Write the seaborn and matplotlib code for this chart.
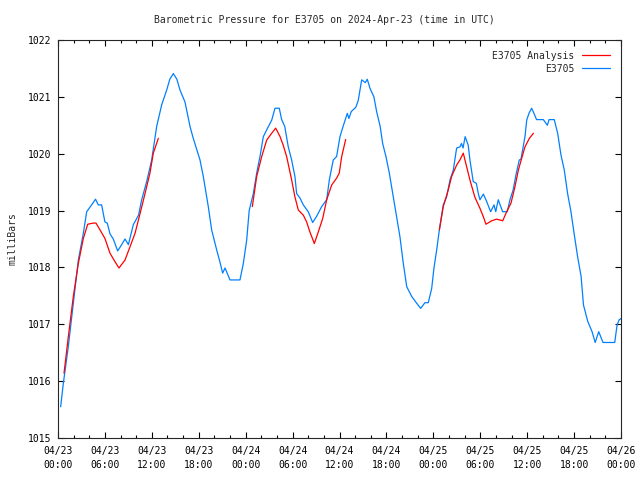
import numpy as np
import pandas as pd
import matplotlib
matplotlib.use("Agg")
import matplotlib.pyplot as plt
import matplotlib.dates as mdates
from matplotlib.lines import Line2D
import seaborn as sns

start = pd.Timestamp("2024-04-23 00:00")

# observed station pressure (hours after start, mb)
obs_hours = [0.34, 0.68, 1.32, 1.96, 2.6, 3.24, 3.67, 4.3, 4.8, 5.15, 5.58, 6.0, 6.3, 6.65,
             7.07, 7.63, 8.14, 8.57, 9.0, 9.63, 10.3, 10.7, 11.34, 11.98, 12.62, 13.26, 13.9,
             14.3, 14.75, 15.2, 15.6, 16.24, 16.88, 17.3, 17.75, 18.16, 18.58, 19.22, 19.65,
             20.29, 20.7, 21.06, 21.36, 22.0, 23.27, 23.7, 24.13, 24.45, 24.98, 25.41, 25.83,
             26.26, 26.69, 27.33, 27.75, 28.3, 28.6, 29.0, 29.45, 29.88, 30.3, 30.52, 30.95,
             31.37, 32.0, 32.57, 33.08, 33.72, 34.36, 34.7, 35.2, 35.63, 36.06, 36.48, 37.0,
             37.2, 37.5, 38.1, 38.4, 38.84, 39.3, 39.55, 39.9, 40.4, 40.75, 41.2, 41.52, 41.94,
             42.37, 42.88, 43.3, 43.73, 44.16, 44.6, 45.23, 45.87, 46.38, 46.93, 47.35, 47.79,
             48.08, 48.43, 48.77, 49.27, 49.7, 50.13, 50.55, 50.98, 51.4, 51.6, 51.8, 52.07,
             52.46, 52.68, 53.1, 53.5, 53.75, 53.96, 54.4, 54.82, 55.33, 55.76, 55.98, 56.3,
             56.87, 57.45, 57.8, 58.2, 58.57, 58.99, 59.2, 59.72, 59.94, 60.23, 60.57, 60.87,
             61.2, 62.07, 62.58, 62.8, 63.46, 63.9, 64.32, 64.75, 65.17, 65.6, 66.0, 66.45,
             66.9, 67.2, 67.75, 68.3, 68.7, 69.15, 69.7, 71.2, 71.5, 71.77, 72.0]
obs_mb = [1015.55, 1015.96, 1016.61, 1017.37, 1018.13, 1018.6, 1018.98, 1019.1, 1019.2,
          1019.1, 1019.1, 1018.8, 1018.78, 1018.59, 1018.5, 1018.29, 1018.4, 1018.5, 1018.4,
          1018.75, 1018.92, 1019.19, 1019.51, 1019.89, 1020.48, 1020.86, 1021.12, 1021.31,
          1021.41, 1021.31, 1021.12, 1020.91, 1020.48, 1020.27, 1020.07, 1019.89, 1019.6,
          1019.07, 1018.66, 1018.31, 1018.1, 1017.9, 1017.99, 1017.78, 1017.78, 1018.07,
          1018.48, 1019.0, 1019.3, 1019.66, 1019.95, 1020.3, 1020.42, 1020.59, 1020.8, 1020.8,
          1020.6, 1020.48, 1020.12, 1019.89, 1019.6, 1019.3, 1019.22, 1019.1, 1018.98,
          1018.79, 1018.9, 1019.07, 1019.19, 1019.54, 1019.89, 1019.95, 1020.3, 1020.49,
          1020.71, 1020.62, 1020.74, 1020.82, 1020.94, 1021.3, 1021.25, 1021.31, 1021.15,
          1021.0, 1020.74, 1020.48, 1020.18, 1019.95, 1019.66, 1019.24, 1018.9, 1018.54,
          1018.07, 1017.66, 1017.49, 1017.37, 1017.28, 1017.38, 1017.38, 1017.63, 1017.99,
          1018.31, 1018.66, 1019.1, 1019.24, 1019.54, 1019.71, 1020.1, 1020.12, 1020.18,
          1020.1, 1020.3, 1020.15, 1019.89, 1019.51, 1019.48, 1019.3, 1019.19, 1019.29,
          1019.16, 1018.98, 1019.1, 1018.98, 1019.19, 1018.98, 1018.98, 1019.19, 1019.36,
          1019.63, 1019.89, 1019.9, 1020.3, 1020.59, 1020.71, 1020.8, 1020.71, 1020.6, 1020.6,
          1020.5, 1020.6, 1020.6, 1020.36, 1019.98, 1019.71, 1019.3, 1018.98, 1018.6, 1018.19,
          1017.84, 1017.34, 1017.05, 1016.87, 1016.68, 1016.87, 1016.68, 1016.68, 1016.99,
          1017.08, 1017.1]

# analysis runs, three separate pieces
ana1_hours = [0.77, 1.32, 1.96, 2.6, 3.24, 3.8, 4.52, 4.86, 5.37, 6.0, 6.65, 7.29, 7.8,
              8.57, 9.2, 9.85, 10.5, 11.13, 11.76, 12.19, 12.83]
ana1_mb = [1016.14, 1016.78, 1017.49, 1018.07, 1018.51, 1018.76, 1018.78, 1018.78, 1018.66,
           1018.51, 1018.25, 1018.1, 1017.99, 1018.13, 1018.36, 1018.6, 1018.95, 1019.3,
           1019.66, 1020.01, 1020.27]
ana2_hours = [24.85, 25.41, 26.05, 26.69, 27.33, 27.84, 28.4, 28.8, 29.24, 29.88, 30.3,
              30.73, 31.37, 31.8, 32.2, 32.78, 33.3, 33.85, 34.36, 35.0, 35.63, 35.97, 36.28,
              36.79]
ana2_mb = [1019.07, 1019.6, 1019.95, 1020.24, 1020.36, 1020.45, 1020.3, 1020.15, 1019.95,
           1019.54, 1019.24, 1019.01, 1018.92, 1018.8, 1018.63, 1018.42, 1018.63, 1018.86,
           1019.19, 1019.45, 1019.57, 1019.66, 1019.95, 1020.25]
ana3_hours = [48.77, 49.27, 49.9, 50.34, 50.98, 51.4, 51.83, 52.26, 52.68, 53.3, 53.96,
              54.4, 54.73, 55.46, 56.1, 56.87, 57.38, 57.93, 58.44, 58.87, 59.3, 59.72,
              60.28, 60.8]
ana3_mb = [1018.66, 1019.07, 1019.36, 1019.6, 1019.8, 1019.89, 1020.01, 1019.77, 1019.54,
           1019.24, 1019.04, 1018.89, 1018.76, 1018.82, 1018.85, 1018.82, 1018.98, 1019.13,
           1019.42, 1019.71, 1019.92, 1020.12, 1020.27, 1020.36]


def frame(hours, mb, seg=0):
    return pd.DataFrame({"time": start + pd.to_timedelta(hours, unit="h"),
                         "mb": mb, "seg": seg})


obs = frame(obs_hours, obs_mb)
ana = pd.concat([frame(ana1_hours, ana1_mb, 1),
                 frame(ana2_hours, ana2_mb, 2),
                 frame(ana3_hours, ana3_mb, 3)], ignore_index=True)

blue = "#0080ff"
red = "#ff0000"

sns.set_style("ticks")
plt.rcParams["font.family"] = ["DejaVu Sans Mono"]
plt.rcParams["axes.linewidth"] = 0.8

fig = plt.figure(figsize=(6.4, 4.8), dpi=100)
ax = fig.add_axes([58 / 640, 42 / 480, 563 / 640, 398 / 480])

sns.lineplot(data=obs, x="time", y="mb", color=blue, lw=0.9, estimator=None, ax=ax)
sns.lineplot(data=ana, x="time", y="mb", units="seg", estimator=None, color=red,
             lw=0.9, ax=ax)

ax.set_xlim(start, start + pd.Timedelta(hours=72))
ax.set_ylim(1015, 1022)
ax.set_yticks(np.arange(1015, 1023, 1))
ax.xaxis.set_major_locator(mdates.HourLocator(byhour=range(0, 24, 6)))
ax.xaxis.set_minor_locator(mdates.HourLocator(byhour=range(0, 24, 2)))
ax.xaxis.set_major_formatter(mdates.DateFormatter("%m/%d\n%H:%M"))
ax.tick_params(which="both", direction="in", top=True, right=True, labelsize=7,
               colors="black", width=0.8)
ax.tick_params(which="major", length=4)
ax.tick_params(which="minor", length=2.5)
ax.tick_params(axis="x", pad=6)
ax.tick_params(axis="y", pad=5)
for lbl in ax.get_xticklabels():
    lbl.set_linespacing(1.5)

ax.set_xlabel("")
ax.set_ylabel("milliBars", fontsize=7)
ax.yaxis.set_label_coords(-0.072, 0.5)

fig.text(0.507, 1 - 20 / 480, "Barometric Pressure for E3705 on 2024-Apr-23 (time in UTC)",
         ha="center", va="center", fontsize=7)

handles = [Line2D([], [], color=red, lw=0.9), Line2D([], [], color=blue, lw=0.9)]
ax.legend(handles, ["E3705 Analysis", "E3705"], loc="upper right", frameon=False,
          markerfirst=False, alignment="right", fontsize=7, handlelength=2.9,
          labelspacing=0.3, borderaxespad=0.7, handletextpad=0.8)

fig.savefig("out.png", dpi=100)
